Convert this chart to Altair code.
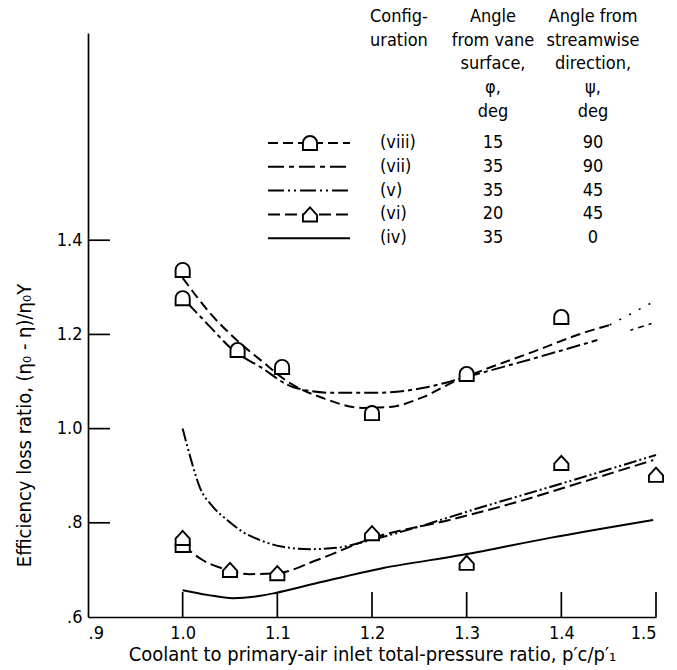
import altair as alt
import pandas as pd

FONT = "DejaVu Sans Condensed"

# ---- curves ----
viii_x = [1.0, 1.029, 1.057, 1.082, 1.113, 1.148, 1.19, 1.219, 1.254, 1.29, 1.317, 1.37, 1.423, 1.451]
viii_y = [1.320, 1.245, 1.188, 1.146, 1.097, 1.065, 1.044, 1.046, 1.067, 1.103, 1.124, 1.163, 1.203, 1.220]
viii_ext_x = [1.451, 1.5]
viii_ext_y = [1.220, 1.272]

vii_x = [1.005, 1.029, 1.053, 1.082, 1.117, 1.159, 1.205, 1.258, 1.30, 1.353, 1.438]
vii_y = [1.267, 1.216, 1.167, 1.131, 1.088, 1.076, 1.076, 1.088, 1.110, 1.139, 1.188]
vii_ext_x = [1.473, 1.5]
vii_ext_y = [1.209, 1.226]

v_x = [1.0, 1.008, 1.018, 1.032, 1.047, 1.064, 1.082, 1.106, 1.135, 1.163, 1.198, 1.248, 1.317, 1.388, 1.441, 1.5]
v_y = [1.0, 0.94, 0.876, 0.834, 0.806, 0.780, 0.763, 0.749, 0.744, 0.747, 0.763, 0.791, 0.834, 0.876, 0.908, 0.944]

vi_x = [1.0, 1.021, 1.047, 1.071, 1.1, 1.142, 1.201, 1.282, 1.353, 1.423, 1.497]
vi_y = [0.753, 0.721, 0.700, 0.691, 0.693, 0.721, 0.768, 0.806, 0.844, 0.887, 0.933]

iv_x = [1.0, 1.026, 1.053, 1.082, 1.098, 1.142, 1.212, 1.296, 1.388, 1.497]
iv_y = [0.657, 0.647, 0.640, 0.645, 0.651, 0.672, 0.704, 0.732, 0.768, 0.806]

# ---- data symbols ----
sq_x = [1.0, 1.0, 1.058, 1.105, 1.2, 1.3, 1.4, 1.0]
sq_y = [1.337, 1.277, 1.167, 1.131, 1.033, 1.116, 1.237, 0.753]
tr_x = [1.0, 1.05, 1.1, 1.2, 1.3, 1.4, 1.5]
tr_y = [0.768, 0.700, 0.693, 0.778, 0.715, 0.927, 0.902]

# ---- axes ----
x_ticks = [0.9, 1.0, 1.1, 1.2, 1.3, 1.4, 1.5]
y_ticks = [0.6, 0.8, 1.0, 1.2, 1.4]
x_inner_ticks = [1.0, 1.1, 1.2, 1.3, 1.4, 1.5]
y_inner_ticks = [0.8, 1.0, 1.2, 1.4]

# ---- legend table ----
leg_config = ["(viii)", "(vii)", "(v)", "(vi)", "(iv)"]
leg_phi = ["15", "35", "35", "20", "35"]
leg_psi = ["90", "90", "45", "45", "0"]
head_config = ["Config-", "uration"]
head_phi = ["Angle", "from vane", "surface,", "φ,", "deg"]
head_psi = ["Angle from", "streamwise", "direction,", "ψ,", "deg"]

W, H = 568, 584
XMIN, XMAX, YMIN, YMAX = 0.9, 1.5, 0.6, 1.84

lbl = "datum.value < 1 ? replace(format(datum.value, '.1f'), '0.', '.') : format(datum.value, '.1f')"

xs = alt.Scale(domain=[XMIN, XMAX], nice=False, zero=False)
ys = alt.Scale(domain=[YMIN, YMAX], nice=False, zero=False)

x_axis = alt.Axis(values=x_ticks, labelExpr=lbl, ticks=False, tickSize=0, grid=False,
                  labelPadding=7, labelFontSize=18, labelFont=FONT, labelColor="black",
                  domainColor="black", domainWidth=1.7,
                  title="Coolant to primary-air inlet total-pressure ratio, p′c/p′₁",
                  titleFont=FONT, titleFontSize=20, titleFontWeight="normal", titleColor="black",
                  titleX=284, titleY=27, titleAlign="center", titleBaseline="top")
y_axis = alt.Axis(values=y_ticks, labelExpr=lbl, ticks=False, tickSize=0, grid=False,
                  labelPadding=6, labelFontSize=18, labelFont=FONT, labelColor="black",
                  domainColor="black", domainWidth=1.7,
                  title="Efficiency loss ratio, (η₀ - η)/η₀Y",
                  titleFont=FONT, titleFontSize=20, titleFontWeight="normal", titleColor="black",
                  titleX=-64, titleY=392, titleAlign="center", titleBaseline="middle", titleAngle=270)


def X(field="x"):
    return alt.X(f"{field}:Q", scale=xs, axis=x_axis)


def Y(field="y"):
    return alt.Y(f"{field}:Q", scale=ys, axis=y_axis)


def curve(xv, yv, dash, width=2.0):
    df = pd.DataFrame({"x": xv, "y": yv})
    mk = dict(color="black", strokeWidth=width, interpolate="monotone")
    if dash:
        mk["strokeDash"] = dash
    return alt.Chart(df).mark_line(**mk).encode(x=X(), y=Y())


D_SHAPE = "M-1,1L-1,0A1,1,0,0,1,1,0L1,1Z"
HOUSE = "M-1,1L-1,0.1L0,-1L1,0.1L1,1Z"

DASH_VIII = [10, 5]
DASH_VII = [14, 4, 4, 4]
DASH_V = [13, 3, 2, 3, 2, 3]
DASH_VI = [12, 5]

layers = [
    curve(iv_x, iv_y, None),
    curve(vi_x, vi_y, DASH_VI),
    curve(v_x, v_y, DASH_V),
    curve(vii_x, vii_y, DASH_VII),
    curve(vii_ext_x, vii_ext_y, [3, 5, 6, 5], 1.6),
    curve(viii_x, viii_y, DASH_VIII),
    curve(viii_ext_x, viii_ext_y, [2, 9], 1.6),
]

# inward ticks
layers.append(
    alt.Chart(pd.DataFrame({"x": x_inner_ticks})).mark_rule(color="black", strokeWidth=1.7)
    .encode(x=X(), y=alt.value(H), y2=alt.value(H - 25))
)
layers.append(
    alt.Chart(pd.DataFrame({"y": y_inner_ticks})).mark_rule(color="black", strokeWidth=1.7)
    .encode(y=Y(), x=alt.value(0), x2=alt.value(22))
)

# symbols
layers.append(
    alt.Chart(pd.DataFrame({"x": sq_x, "y": sq_y}))
    .mark_point(shape=D_SHAPE, size=200, filled=True, fill="white", stroke="black", strokeWidth=1.9, opacity=1)
    .encode(x=X(), y=Y())
)
layers.append(
    alt.Chart(pd.DataFrame({"x": tr_x, "y": tr_y}))
    .mark_point(shape=HOUSE, size=200, filled=True, fill="white", stroke="black", strokeWidth=1.9, opacity=1)
    .encode(x=X(), y=Y())
)

# ---- legend (positions relative to plot area) ----
def txt(s, px, py, align):
    return alt.Chart(pd.DataFrame({"t": [s]})).mark_text(
        font=FONT, fontSize=18, color="black", align=align, baseline="middle"
    ).encode(x=alt.value(px), y=alt.value(py), text="t:N")


head_y0, head_dy = -16, 23.7
for i, s in enumerate(head_config):
    layers.append(txt(s, 282, head_y0 + i * head_dy, "left"))
for i, s in enumerate(head_phi):
    layers.append(txt(s, 405, head_y0 + i * head_dy, "center"))
for i, s in enumerate(head_psi):
    layers.append(txt(s, 505, head_y0 + i * head_dy, "center"))

row_y0, row_dy = 110, 23.8
dashes = [DASH_VIII, [16, 5, 5, 5], [16, 4, 2, 4, 2, 4], DASH_VI, None]
syms = [D_SHAPE, None, None, HOUSE, None]
for i in range(len(leg_config)):
    ry = row_y0 + i * row_dy
    layers.append(txt(leg_config[i], 292, ry, "left"))
    layers.append(txt(leg_phi[i], 405, ry, "center"))
    layers.append(txt(leg_psi[i], 505, ry, "center"))
    rk = dict(color="black", strokeWidth=2.0)
    if dashes[i]:
        rk["strokeDash"] = dashes[i]
    layers.append(
        alt.Chart(pd.DataFrame({"k": [0]})).mark_rule(**rk)
        .encode(x=alt.value(180), x2=alt.value(262), y=alt.value(ry))
    )
    if syms[i]:
        layers.append(
            alt.Chart(pd.DataFrame({"k": [0]}))
            .mark_point(shape=syms[i], size=200, filled=True, fill="white", stroke="black", strokeWidth=1.9, opacity=1)
            .encode(x=alt.value(222), y=alt.value(ry))
        )

chart = alt.layer(*layers).properties(
    width=W, height=H,
    padding={"left": 88, "top": 33, "right": 21, "bottom": 53},
    autosize=alt.AutoSizeParams(type="none"),
    background="white",
).configure_view(stroke=None)

chart.save("out.html", embed_options={"renderer": "svg", "actions": False})
